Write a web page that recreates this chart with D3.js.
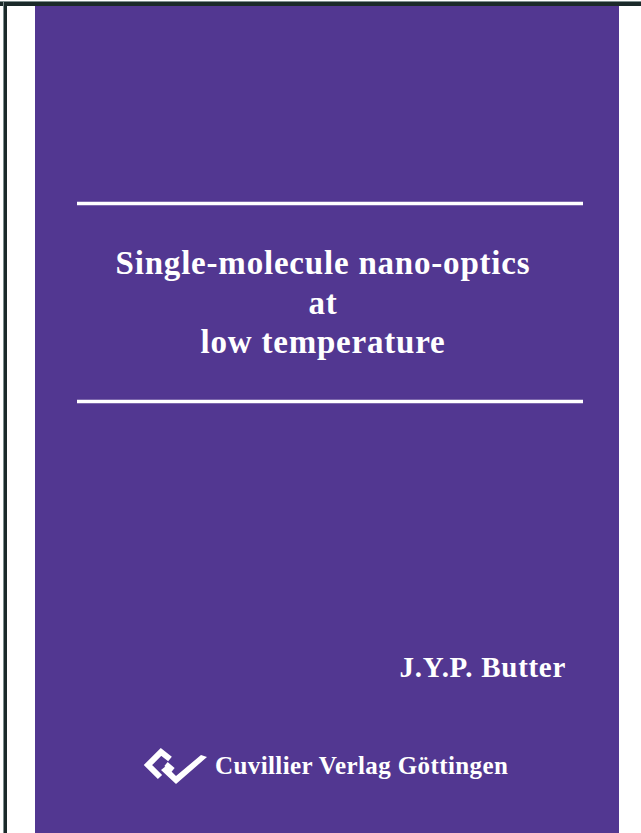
<!DOCTYPE html>
<html>
<head>
<meta charset="utf-8">
<script src="https://cdn.jsdelivr.net/npm/d3@7"></script>
<style>
  html, body { margin: 0; padding: 0; background: #ffffff; }
  svg { display: block; }
</style>
</head>
<body>
<div id="cover"></div>
<script>
// texte de la couverture
const titleLines = ['Single-molecule nano-optics', 'at', 'low temperature']
const author = ['J.Y.P. Butter']
const publisher = ['Cuvillier Verlag Göttingen']
// deux filets blancs au dessus / en dessous du titre
const rules = ['top', 'bottom']

const W = 641, H = 833
const PURPLE = '#523791'
const SERIF = '"Liberation Serif", "Times New Roman", serif'

const svg = d3.select('#cover').append('svg')
  .attr('width', W).attr('height', H)

// cadre sombre en haut et a gauche
svg.append('rect').attr('x', 0).attr('y', 2).attr('width', W).attr('height', 4).attr('fill', '#1b2a2a')
svg.append('rect').attr('x', 0).attr('y', 1).attr('width', W).attr('height', 1).attr('fill', '#7f8f8f')
svg.append('rect').attr('x', 4).attr('y', 2).attr('width', 3).attr('height', H).attr('fill', '#1b2a2a')
svg.append('rect').attr('x', 3).attr('y', 2).attr('width', 1).attr('height', H).attr('fill', '#7f8f8f')

// fond violet
svg.append('rect')
  .attr('x', 35).attr('y', 6)
  .attr('width', 584).attr('height', H - 6)
  .attr('fill', PURPLE)

// filets
const ruleY = d3.scalePoint().domain(rules).range([203.5, 401.5])
svg.selectAll('line.rule')
  .data(rules)
  .join('line')
  .attr('class', 'rule')
  .attr('x1', 77).attr('x2', 583)
  .attr('y1', d => ruleY(d)).attr('y2', d => ruleY(d))
  .attr('stroke', '#ffffff')
  .attr('stroke-width', 3.5)

// titre
const lineY = d3.scalePoint().domain(titleLines).range([274, 353])
svg.selectAll('text.title')
  .data(titleLines)
  .join('text')
  .attr('class', 'title')
  .attr('x', 323)
  .attr('y', d => lineY(d))
  .attr('text-anchor', 'middle')
  .attr('font-family', SERIF)
  .attr('font-weight', 'bold')
  .attr('font-size', 33)
  .attr('letter-spacing', 0.8)
  .attr('fill', '#ffffff')
  .text(d => d)

// auteur
svg.selectAll('text.author')
  .data(author)
  .join('text')
  .attr('class', 'author')
  .attr('x', 566)
  .attr('y', 677)
  .attr('text-anchor', 'end')
  .attr('font-family', SERIF)
  .attr('font-weight', 'bold')
  .attr('font-size', 29)
  .attr('letter-spacing', 0.7)
  .attr('fill', '#ffffff')
  .text(d => d)

// editeur
svg.selectAll('text.publisher')
  .data(publisher)
  .join('text')
  .attr('class', 'publisher')
  .attr('x', 215)
  .attr('y', 774)
  .attr('font-family', SERIF)
  .attr('font-weight', 'bold')
  .attr('font-size', 25)
  .attr('letter-spacing', 0.4)
  .attr('fill', '#ffffff')
  .text(d => d)

// logo (losange ouvert + coche)
const logo = svg.append('g').attr('class', 'logo')
logo.append('path')
  .attr('d', 'M170,759 L161,752 L148,765 L160,777')
  .attr('fill', 'none').attr('stroke', '#ffffff')
  .attr('stroke-width', 6).attr('stroke-linejoin', 'miter')
logo.append('path')
  .attr('d', 'M161,770 L176,784 L207,757 L201,755 L176,776 L166,766 Z')
  .attr('fill', '#ffffff')
logo.append('path')
  .attr('d', 'M166,764 L173,770')
  .attr('fill', 'none').attr('stroke', '#ffffff')
  .attr('stroke-width', 5)
</script>
</body>
</html>
